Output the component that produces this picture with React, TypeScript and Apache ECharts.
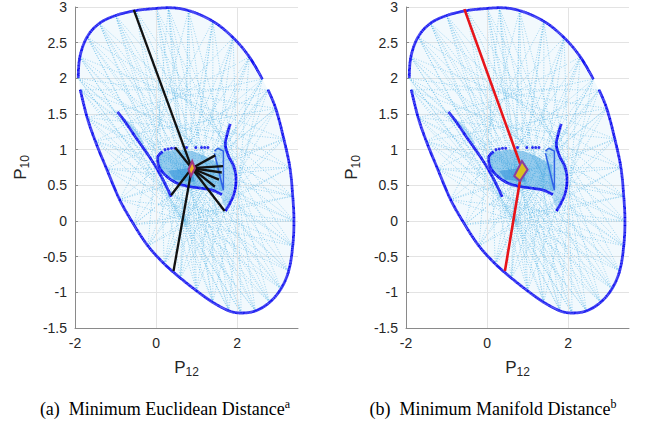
import React, { useEffect, useRef } from "react";
import * as echarts from "echarts";

// Outer boundary of the reachable set, counter-clockwise from the top
const outerCurve: [number, number][] = [
  [0.0, 2.98], [-0.5, 2.95], [-1.0, 2.88], [-1.4, 2.77], [-1.7, 2.58], [-1.88, 2.3], [-1.92, 2.0],
  [-1.87, 1.84], [-1.7, 1.45], [-1.5, 1.12], [-1.22, 0.73], [-0.9, 0.3], [-0.55, -0.05], [-0.2, -0.35],
  [0.2, -0.6], [0.6, -0.8], [1.0, -0.98], [1.4, -1.14], [1.8, -1.26], [2.1, -1.29], [2.45, -1.26],
  [2.8, -1.14], [3.08, -0.95], [3.27, -0.7], [3.37, -0.35], [3.4, 0.0], [3.37, 0.35], [3.3, 0.75],
  [3.15, 1.15], [2.95, 1.58], [2.76, 1.84], [2.62, 1.99], [2.3, 2.3], [1.9, 2.57], [1.4, 2.8],
  [0.8, 2.95], [0.3, 2.99],
];

// Pairs of outer points joined by the light dotted geodesic lines
const chordPairs: [number, number][] = [
  [0, 14], [1, 15], [2, 16], [3, 17], [4, 18], [5, 19], [6, 20], [7, 21], [8, 22], [9, 23], [10, 24],
  [11, 25], [12, 26], [13, 27], [14, 28], [15, 29], [16, 30], [17, 31], [18, 32], [19, 33], [20, 34],
  [21, 35], [22, 36], [23, 0], [24, 1], [25, 2], [26, 3], [27, 4], [28, 5], [29, 6], [30, 7], [31, 8],
  [32, 9], [33, 10], [34, 11], [35, 12], [36, 13],
  [0, 17], [1, 18], [2, 19], [3, 20], [4, 21], [5, 22], [6, 23], [7, 24], [8, 25], [9, 26], [10, 27],
  [11, 28], [12, 29], [13, 30], [14, 31], [15, 32], [16, 33], [17, 34], [18, 35], [19, 36], [20, 0],
  [21, 1], [22, 2], [23, 3], [24, 4], [25, 5], [26, 6], [27, 7], [28, 8], [29, 9], [30, 10], [31, 11],
  [32, 12], [33, 13], [34, 14], [35, 15], [36, 16],
];
const spokeHubs: [number, number][] = [[0.9, 0.6], [0.7, 0.0]];

// Inner structures
const leftInner: [number, number][] = [
  [-0.95, 1.53], [-0.75, 1.38], [-0.5, 1.17], [-0.3, 1.01], [-0.05, 0.8], [0.15, 0.6], [0.3, 0.43], [0.37, 0.34],
];
const centerCurve: [number, number][] = [
  [0.16, 0.97], [0.04, 0.89], [0.06, 0.78], [0.2, 0.66], [0.45, 0.55], [0.75, 0.49], [1.1, 0.46],
  [1.4, 0.43], [1.62, 0.37],
];
const centerTopDots: [number, number][] = [
  [0.22, 1.0], [0.3, 1.01], [0.38, 1.02], [0.46, 1.02], [0.75, 1.03], [0.98, 1.03], [1.12, 1.03],
  [1.2, 1.03], [1.28, 1.03],
];
const rightInner: [number, number][] = [
  [1.83, 1.36], [1.76, 1.23], [1.71, 1.08], [1.78, 0.92], [1.92, 0.76], [1.97, 0.58], [1.94, 0.42],
  [1.84, 0.27], [1.71, 0.14],
];
const rightTriangle: [number, number][] = [
  [1.44, 0.98], [1.52, 1.02], [1.66, 0.98], [1.66, 0.43], [1.44, 0.95],
];
const denseFills: [number, number][][] = [
  [[0.04, 0.89], [0.16, 0.97], [0.5, 1.0], [0.9, 0.98], [1.25, 0.9], [1.6, 0.78], [1.64, 0.42],
   [1.3, 0.44], [0.9, 0.47], [0.5, 0.53], [0.2, 0.66], [0.06, 0.78]],
  [[1.44, 0.98], [1.7, 1.1], [1.83, 1.36], [1.72, 1.05], [1.92, 0.74], [1.9, 0.4], [1.72, 0.15], [1.55, 0.45]],
  [[-0.9, 1.5], [-0.6, 1.35], [-0.3, 1.1], [-0.35, 1.05], [-0.7, 1.35]],
  [[0.3, 0.7], [0.9, 0.75], [0.95, 0.55], [0.45, 0.58]],
];

// Minimum-distance paths
const pathCenter: [number, number] = [0.88, 0.74];
const euclidEnds: [number, number][] = [
  [-0.55, 2.96], [0.43, -0.7], [0.37, 0.36], [0.47, 1.03], [1.46, 0.92], [1.65, 0.77],
  [1.62, 0.68], [1.55, 0.58], [1.45, 0.48], [1.69, 0.14],
];
const manifoldPath: [number, number][] = [[-0.56, 2.97], [0.86, 0.73], [0.44, -0.7]];
const markerLeft: [number, number][] = [[0.8, 0.72], [0.89, 0.84], [0.96, 0.74], [0.86, 0.63]];
const markerRight: [number, number][] = [[0.67, 0.63], [0.86, 0.84], [1.0, 0.72], [0.81, 0.56]];

const FONT = "Liberation Sans, Arial, sans-serif";
const DARK_BLUE = "#0606f0";

function segSeries(g: number, segs: number[][], stroke: string, width: number, dash: number[] | null, z: number, opacity = 1) {
  return {
    type: "custom",
    xAxisIndex: g,
    yAxisIndex: g,
    z,
    silent: true,
    clip: true,
    data: segs,
    encode: { x: [0, 2], y: [1, 3] },
    renderItem: (_p: any, api: any) => {
      const a = api.coord([api.value(0), api.value(1)]);
      const b = api.coord([api.value(2), api.value(3)]);
      return {
        type: "line",
        shape: { x1: a[0], y1: a[1], x2: b[0], y2: b[1] },
        style: { stroke, lineWidth: width, lineDash: dash || undefined, opacity },
      };
    },
  };
}

function polySeries(g: number, polys: [number, number][][], fill: string, stroke: string, lw: number, z: number, extra: any = {}) {
  return {
    type: "custom",
    xAxisIndex: g,
    yAxisIndex: g,
    z,
    silent: true,
    data: polys.map((p) => p[0]),
    renderItem: (params: any, api: any) => {
      const pts = polys[params.dataIndex].map((pt) => api.coord(pt));
      return {
        type: "polygon",
        shape: { points: pts },
        style: { fill, stroke, lineWidth: lw },
      };
    },
    ...extra,
  };
}

function lineSeries(g: number, data: [number, number][], color: string, width: number, dash: any, z: number, smooth: any = 0.3) {
  return {
    type: "line",
    xAxisIndex: g,
    yAxisIndex: g,
    data,
    smooth,
    symbol: "none",
    z,
    silent: true,
    lineStyle: { color, width, type: dash },
  };
}

function buildGrid(g: number) {
  const segs: number[][] = chordPairs.map(([i, j]) => [outerCurve[i][0], outerCurve[i][1], outerCurve[j][0], outerCurve[j][1]]);
  const spokes: number[][] = [];
  spokeHubs.forEach((h) => outerCurve.forEach((p) => spokes.push([p[0], p[1], h[0], h[1]])));
  const outerA = outerCurve.slice(7, 31);
  const outerB = [...outerCurve.slice(31), ...outerCurve.slice(0, 7)];
  // ECharts scales array dashes by the line width
  const dotDash = [0.9, 0.22];
  const series: any[] = [
    polySeries(g, [outerCurve], "rgba(150,205,236,0.12)", "none", 0, 1, {
      markLine: {
        silent: true,
        symbol: "none",
        label: { show: false },
        lineStyle: { color: "#e3e3e3", type: "solid", width: 1 },
        data: [{ xAxis: 0 }, { xAxis: 2 }],
      },
    }),
    segSeries(g, segs, "#55b4e4", 0.8, [1, 1.6], 2, 0.7),
    segSeries(g, spokes, "#55b4e4", 0.8, [1, 1.6], 2, 0.7),
    polySeries(g, [denseFills[0]], "rgba(58,158,222,0.5)", "none", 0, 3),
    polySeries(g, denseFills.slice(1), "rgba(80,170,228,0.35)", "none", 0, 3),
    polySeries(g, [denseFills[3]], "rgba(40,140,215,0.4)", "none", 0, 3),
    lineSeries(g, outerA, DARK_BLUE, 2.8, dotDash, 5, 0.35),
    lineSeries(g, outerB, DARK_BLUE, 2.8, dotDash, 5, 0.35),
    lineSeries(g, leftInner, DARK_BLUE, 2.8, dotDash, 5, 0.3),
    lineSeries(g, centerCurve, DARK_BLUE, 2.8, dotDash, 5, 0.4),
    lineSeries(g, rightInner, DARK_BLUE, 2.8, dotDash, 5, 0.4),
    lineSeries(g, rightTriangle, "#2f62e6", 1.5, "solid", 5, false),
    {
      type: "scatter",
      xAxisIndex: g,
      yAxisIndex: g,
      data: centerTopDots,
      symbolSize: 3,
      silent: true,
      z: 5,
      itemStyle: { color: DARK_BLUE },
    },
  ];
  if (g === 0) {
    const paths = euclidEnds.map((e) => [pathCenter[0], pathCenter[1], e[0], e[1]]);
    series.push(segSeries(g, paths, "#111111", 2.3, null, 8));
    series.push(polySeries(g, [markerLeft], "#edb120", "#a2357f", 2, 9));
  } else {
    series.push(lineSeries(g, manifoldPath, "#e8141a", 2.6, "solid", 8, false));
    series.push(polySeries(g, [markerRight], "#d8c020", "#8a3ea0", 2, 9));
  }
  return series;
}

function xAxisCfg(g: number) {
  return {
    type: "value",
    gridIndex: g,
    min: -2,
    max: 3.5,
    interval: 2,
    axisLine: { show: true, onZero: false, lineStyle: { color: "#8a8a8a" } },
    axisTick: { show: true, inside: true, length: 3, lineStyle: { color: "#8a8a8a" } },
    axisLabel: { showMaxLabel: false, color: "#262626", fontSize: 14, fontFamily: FONT, margin: 8 },
    splitLine: { show: false },
    name: "{p|P}{s|12}",
    nameLocation: "middle",
    nameGap: 28,
    nameTextStyle: {
      rich: {
        p: { fontSize: 17, fontFamily: FONT, color: "#262626" },
        s: { fontSize: 12, fontFamily: FONT, color: "#262626", padding: [10, 0, 0, 0] },
      },
    },
  };
}

function yAxisCfg(g: number) {
  return {
    type: "value",
    gridIndex: g,
    min: -1.5,
    max: 3,
    interval: 0.5,
    axisLine: { show: true, onZero: false, lineStyle: { color: "#8a8a8a" } },
    axisTick: { show: true, inside: true, length: 3, lineStyle: { color: "#8a8a8a" } },
    axisLabel: { color: "#262626", fontSize: 14, fontFamily: FONT, margin: 8 },
    splitLine: { show: true, lineStyle: { color: "#e3e3e3", width: 1 } },
    name: "{p|P}{s|10}",
    nameLocation: "middle",
    nameGap: 44,
    nameTextStyle: {
      rich: {
        p: { fontSize: 17, fontFamily: FONT, color: "#262626" },
        s: { fontSize: 12, fontFamily: FONT, color: "#262626", padding: [10, 0, 0, 0] },
      },
    },
  };
}

export default function App() {
  const ref = useRef<HTMLDivElement>(null);
  useEffect(() => {
    if (!ref.current) return;
    const chart = echarts.init(ref.current, null, { renderer: "svg" });
    const capStyle = (text: string, x: number) => ({
      type: "text",
      x,
      y: 409,
      silent: true,
      style: {
        text,
        align: "center",
        verticalAlign: "middle",
        fontFamily: "Liberation Serif, Times New Roman, serif",
        fontSize: 18,
        fill: "#000",
        rich: {
          sup: { fontSize: 12, fontFamily: "Liberation Serif, Times New Roman, serif", verticalAlign: "top", padding: [0, 0, 10, 0] },
        },
      },
    });
    chart.setOption({
      animation: false,
      backgroundColor: "#ffffff",
      grid: [
        { left: 75, top: 3, width: 223, height: 325 },
        { left: 406, top: 3, width: 223, height: 325 },
      ],
      xAxis: [xAxisCfg(0), xAxisCfg(1)],
      yAxis: [yAxisCfg(0), yAxisCfg(1)],
      series: [...buildGrid(0), ...buildGrid(1)],
      graphic: [
        capStyle("(a)  Minimum Euclidean Distance{sup|a}", 165),
        capStyle("(b)  Minimum Manifold Distance{sup|b}", 493),
      ],
    });
    return () => chart.dispose();
  }, []);
  return (
    <div
      ref={ref}
      style={{ position: "fixed", left: 0, top: 0, width: 663, height: 428, background: "#fff" }}
    />
  );
}
